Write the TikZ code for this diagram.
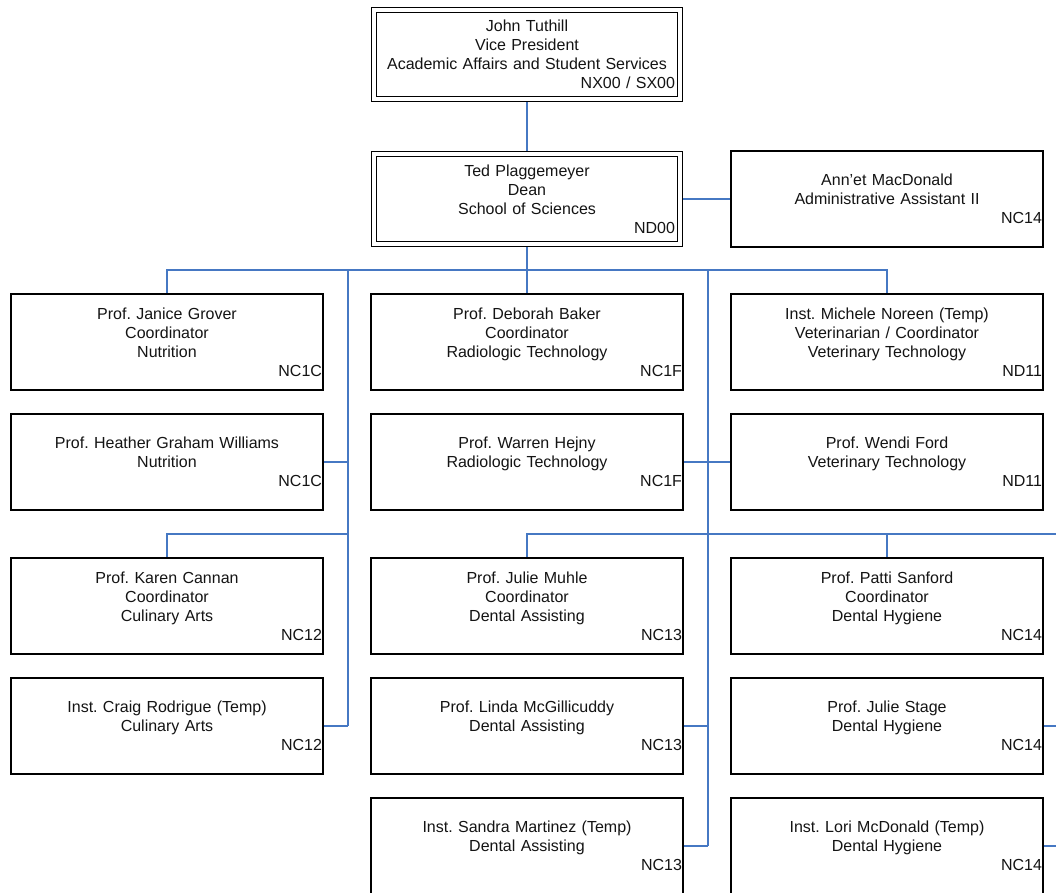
\documentclass[tikz,border=0pt]{standalone}
\usepackage{fontspec}
\setmainfont{Liberation Sans}
\frenchspacing
\newcommand\orgfont{\fontsize{16pt}{19pt}\selectfont\frenchspacing}
\newcommand\code[1]{\makebox[\linewidth][r]{#1}}
\definecolor{linkblue}{RGB}{70,120,195}
\definecolor{inktext}{RGB}{20,20,20}
\tikzset{
  box/.style={draw=black, line width=1.6pt, minimum width=312pt, minimum height=96pt,
    text width=310pt, inner xsep=1pt, inner ysep=0pt, align=center, font=\orgfont, text=inktext},
  dbox/.style={draw=black, line width=1.7pt, double=white, double distance=3.3pt,
    minimum width=306pt, text width=296pt, inner xsep=5pt, inner ysep=0pt,
    outer sep=3.35pt, align=center, font=\orgfont, text=inktext},
  link/.style={draw=linkblue, line width=1.4pt}
}
\begin{document}
\begin{tikzpicture}[x=1pt,y=-1pt]
\useasboundingbox[fill=white] (0,0) rectangle (1056,892);

% top
\node[dbox, minimum height=89pt] (vp) at (527,54.5) {John Tuthill\\Vice President\\Academic Affairs and Student Services\\\code{NX00 / SX00}};
\node[dbox, minimum height=90pt] (dean) at (527,199) {Ted Plaggemeyer\\Dean\\School of Sciences\\\code{ND00}};
\node[box] (annet) at (887,199) {Ann’et MacDonald\\Administrative Assistant II\\\code{NC14}};

% left column
\node[box] (janice) at (167,342) {Prof. Janice Grover\\Coordinator\\Nutrition\\\code{NC1C}};
\node[box] (heather) at (167,462) {Prof. Heather Graham Williams\\Nutrition\\\code{NC1C}};
\node[box] (karen) at (167,606) {Prof. Karen Cannan\\Coordinator\\Culinary Arts\\\code{NC12}};
\node[box] (craig) at (167,726) {Inst. Craig Rodrigue (Temp)\\Culinary Arts\\\code{NC12}};

% middle column
\node[box] (deborah) at (527,342) {Prof. Deborah Baker\\Coordinator\\Radiologic Technology\\\code{NC1F}};
\node[box] (warren) at (527,462) {Prof. Warren Hejny\\Radiologic Technology\\\code{NC1F}};
\node[box] (muhle) at (527,606) {Prof. Julie Muhle\\Coordinator\\Dental Assisting\\\code{NC13}};
\node[box] (linda) at (527,726) {Prof. Linda McGillicuddy\\Dental Assisting\\\code{NC13}};
\node[box] (sandra) at (527,846) {Inst. Sandra Martinez (Temp)\\Dental Assisting\\\code{NC13}};

% right column
\node[box] (michele) at (887,342) {Inst. Michele Noreen (Temp)\\Veterinarian / Coordinator\\Veterinary Technology\\\code{ND11}};
\node[box] (wendi) at (887,462) {Prof. Wendi Ford\\Veterinary Technology\\\code{ND11}};
\node[box] (sanford) at (887,606) {Prof. Patti Sanford\\Coordinator\\Dental Hygiene\\\code{NC14}};
\node[box] (stage) at (887,726) {Prof. Julie Stage\\Dental Hygiene\\\code{NC14}};
\node[box] (lori) at (887,846) {Inst. Lori McDonald (Temp)\\Dental Hygiene\\\code{NC14}};

% coordinates
\coordinate (j1) at (527,270);
\coordinate (tL) at (348,270);
\coordinate (tLend) at (348,726);
\coordinate (kL) at (348,534);
\coordinate (tM) at (708,270);
\coordinate (tMend) at (708,846);
\coordinate (mR) at (708,534);
\coordinate (edgeA) at (1058,534);
\coordinate (edgeB) at (1058,726);
\coordinate (edgeC) at (1058,846);

% connectors
\draw[link] (vp.south) -- (dean.north);
\draw[link] (dean.east) -- (annet.west);
\draw[link] (dean.south) -- (j1);
\draw[link] (janice.north) |- (j1) -| (michele.north);
\draw[link] (j1) -- (deborah.north);
\draw[link] (tL) -- (tLend);
\draw[link] (heather.east) -- (heather.east -| tL);
\draw[link] (craig.east) -- (craig.east -| tL);
\draw[link] (kL) -| (karen.north);
\draw[link] (tM) -- (tMend);
\draw[link] (warren.east) -- (wendi.west);
\draw[link] (linda.east) -- (linda.east -| tM);
\draw[link] (sandra.east) -- (sandra.east -| tM);
\draw[link] (muhle.north) |- (mR) -- (edgeA);
\draw[link] (sanford.north) -- (sanford.north |- mR);
\draw[link] (stage.east) -- (edgeB);
\draw[link] (lori.east) -- (edgeC);
\end{tikzpicture}
\end{document}
